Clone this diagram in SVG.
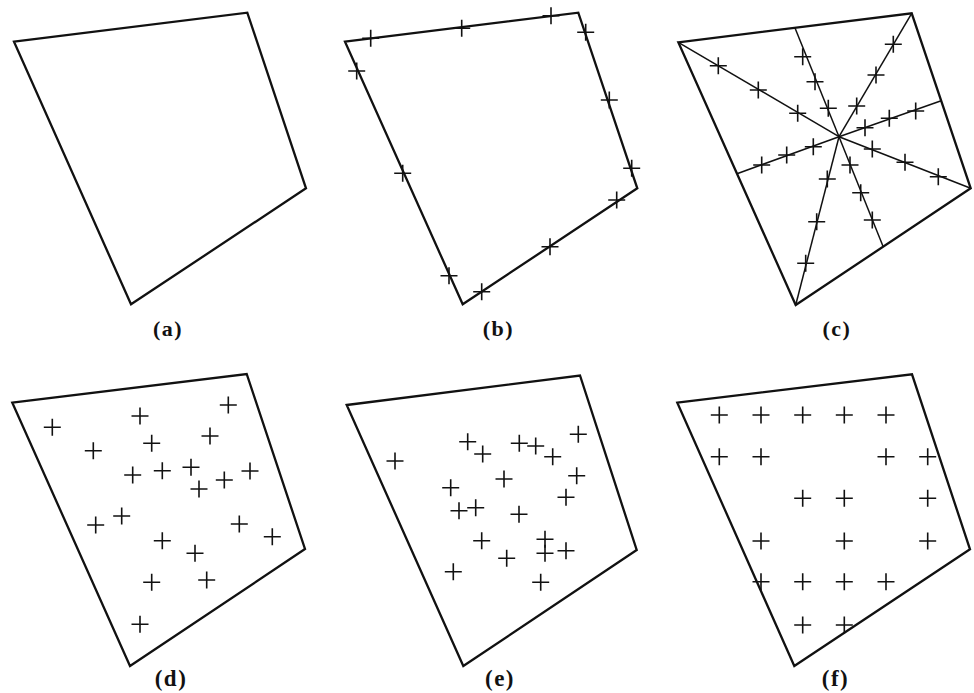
<svg xmlns="http://www.w3.org/2000/svg" xmlns:xlink="http://www.w3.org/1999/xlink" width="974" height="693" viewBox="0 0 974 693">
<style>
.q{fill:none;stroke:#111;stroke-width:2.3;stroke-linejoin:miter}
.s{fill:none;stroke:#111;stroke-width:1.5}
.c{fill:none;stroke:#111;stroke-width:1.6}
.lb{font-family:"Liberation Serif","Times New Roman",serif;font-weight:bold;fill:#111;text-anchor:middle;letter-spacing:1.5px}
</style>
<defs>
<path id="x" class="c" d="M-8.5,0H8.5M0,-8.5V8.5"/>
</defs>
<rect width="974" height="693" fill="#fff"/>
<g id="panel-a">
<polygon class="q" points="14,41.7 247.3,12.7 306,188.3 131,304.3"/>
<text class="lb" x="168" y="336" font-size="22">(a)</text>
</g>
<g id="panel-b">
<polygon class="q" points="345,41.7 578.3,12.7 637.3,188.3 462.7,304.3"/>
<use href="#x" x="370.7" y="38.3"/>
<use href="#x" x="461.7" y="28.3"/>
<use href="#x" x="551" y="15.7"/>
<use href="#x" x="585.7" y="32.3"/>
<use href="#x" x="609.3" y="100"/>
<use href="#x" x="631.7" y="168.3"/>
<use href="#x" x="616.7" y="200"/>
<use href="#x" x="550" y="246.7"/>
<use href="#x" x="481.7" y="291.7"/>
<use href="#x" x="449" y="275.7"/>
<use href="#x" x="402.7" y="173.3"/>
<use href="#x" x="356.7" y="71"/>
<text class="lb" x="498.5" y="336" font-size="22">(b)</text>
</g>
<g id="panel-c">
<polygon class="q" points="678.3,42.3 911.7,13.3 970.7,188.3 795.7,305"/>
<g class="s">
<line x1="839" y1="136.7" x2="678.3" y2="42.3"/>
<line x1="839" y1="136.7" x2="795" y2="28"/>
<line x1="839" y1="136.7" x2="911.7" y2="13.3"/>
<line x1="839" y1="136.7" x2="941.2" y2="100.8"/>
<line x1="839" y1="136.7" x2="970.7" y2="188.3"/>
<line x1="839" y1="136.7" x2="883.2" y2="246.7"/>
<line x1="839" y1="136.7" x2="795.7" y2="305"/>
<line x1="839" y1="136.7" x2="737" y2="173.7"/>
</g>
<use href="#x" x="718.3" y="65.7"/>
<use href="#x" x="758.3" y="90"/>
<use href="#x" x="797.7" y="113.3"/>
<use href="#x" x="802.7" y="56.7"/>
<use href="#x" x="815" y="81.7"/>
<use href="#x" x="828.3" y="108.3"/>
<use href="#x" x="893.3" y="44.3"/>
<use href="#x" x="876" y="75"/>
<use href="#x" x="856.7" y="106"/>
<use href="#x" x="915.7" y="111"/>
<use href="#x" x="889.3" y="118.3"/>
<use href="#x" x="865" y="127.7"/>
<use href="#x" x="938.3" y="176.7"/>
<use href="#x" x="905" y="162.3"/>
<use href="#x" x="872.3" y="149"/>
<use href="#x" x="850" y="165"/>
<use href="#x" x="860.7" y="192.7"/>
<use href="#x" x="872.3" y="220"/>
<use href="#x" x="827.3" y="179"/>
<use href="#x" x="816.7" y="221.7"/>
<use href="#x" x="805.7" y="263.3"/>
<use href="#x" x="813.3" y="146.7"/>
<use href="#x" x="786.7" y="155"/>
<use href="#x" x="761.7" y="165"/>
<text class="lb" x="837" y="336" font-size="22">(c)</text>
</g>
<g id="panel-d">
<polygon class="q" points="12.3,402.7 246.7,374 305,549 130,666"/>
<use href="#x" x="52.3" y="427.3"/>
<use href="#x" x="140" y="416"/>
<use href="#x" x="228.3" y="405"/>
<use href="#x" x="93.3" y="450.7"/>
<use href="#x" x="151.7" y="443.3"/>
<use href="#x" x="210" y="436"/>
<use href="#x" x="132.7" y="475"/>
<use href="#x" x="162.3" y="470.7"/>
<use href="#x" x="191" y="467.3"/>
<use href="#x" x="199" y="489"/>
<use href="#x" x="224.3" y="480"/>
<use href="#x" x="250" y="471"/>
<use href="#x" x="95.7" y="525"/>
<use href="#x" x="121.7" y="516"/>
<use href="#x" x="162.3" y="540.7"/>
<use href="#x" x="239.3" y="524"/>
<use href="#x" x="272.3" y="536.7"/>
<use href="#x" x="195" y="553.3"/>
<use href="#x" x="151.7" y="582.3"/>
<use href="#x" x="206.7" y="580"/>
<use href="#x" x="140" y="624.3"/>
<text class="lb" x="171" y="686" font-size="23">(d)</text>
</g>
<g id="panel-e">
<polygon class="q" points="346.7,405 580,375.5 636.7,550 463.3,666"/>
<use href="#x" x="395" y="461"/>
<use href="#x" x="467.7" y="441.7"/>
<use href="#x" x="482.7" y="454"/>
<use href="#x" x="519.3" y="443.3"/>
<use href="#x" x="535.7" y="446"/>
<use href="#x" x="552.7" y="456.7"/>
<use href="#x" x="578.3" y="434.3"/>
<use href="#x" x="504" y="479"/>
<use href="#x" x="576.7" y="475.7"/>
<use href="#x" x="450.7" y="487.7"/>
<use href="#x" x="566" y="497.3"/>
<use href="#x" x="459" y="510.7"/>
<use href="#x" x="475.7" y="507.7"/>
<use href="#x" x="519" y="514.3"/>
<use href="#x" x="481.7" y="540.7"/>
<use href="#x" x="545" y="539.3"/>
<use href="#x" x="545" y="553.3"/>
<use href="#x" x="566" y="550.7"/>
<use href="#x" x="506.7" y="558.3"/>
<use href="#x" x="453.3" y="571.7"/>
<use href="#x" x="540.7" y="582.3"/>
<text class="lb" x="500" y="686" font-size="23">(e)</text>
</g>
<g id="panel-f">
<polygon class="q" points="677.3,402.7 912,374.3 970,549.3 794.3,666"/>
<use href="#x" x="719.3" y="415"/>
<use href="#x" x="761" y="415"/>
<use href="#x" x="802.7" y="415"/>
<use href="#x" x="844.3" y="415"/>
<use href="#x" x="886" y="415"/>
<use href="#x" x="719.3" y="456.7"/>
<use href="#x" x="761" y="456.7"/>
<use href="#x" x="886" y="456.7"/>
<use href="#x" x="927.7" y="456.7"/>
<use href="#x" x="802.7" y="498.3"/>
<use href="#x" x="844.3" y="498.3"/>
<use href="#x" x="927.7" y="498.3"/>
<use href="#x" x="761" y="541"/>
<use href="#x" x="844.3" y="541"/>
<use href="#x" x="927.7" y="541"/>
<use href="#x" x="761" y="581.7"/>
<use href="#x" x="802.7" y="581.7"/>
<use href="#x" x="844.3" y="581.7"/>
<use href="#x" x="886" y="581.7"/>
<use href="#x" x="802.7" y="625"/>
<use href="#x" x="844.3" y="625"/>
<text class="lb" x="835.5" y="686" font-size="23">(f)</text>
</g>
</svg>
